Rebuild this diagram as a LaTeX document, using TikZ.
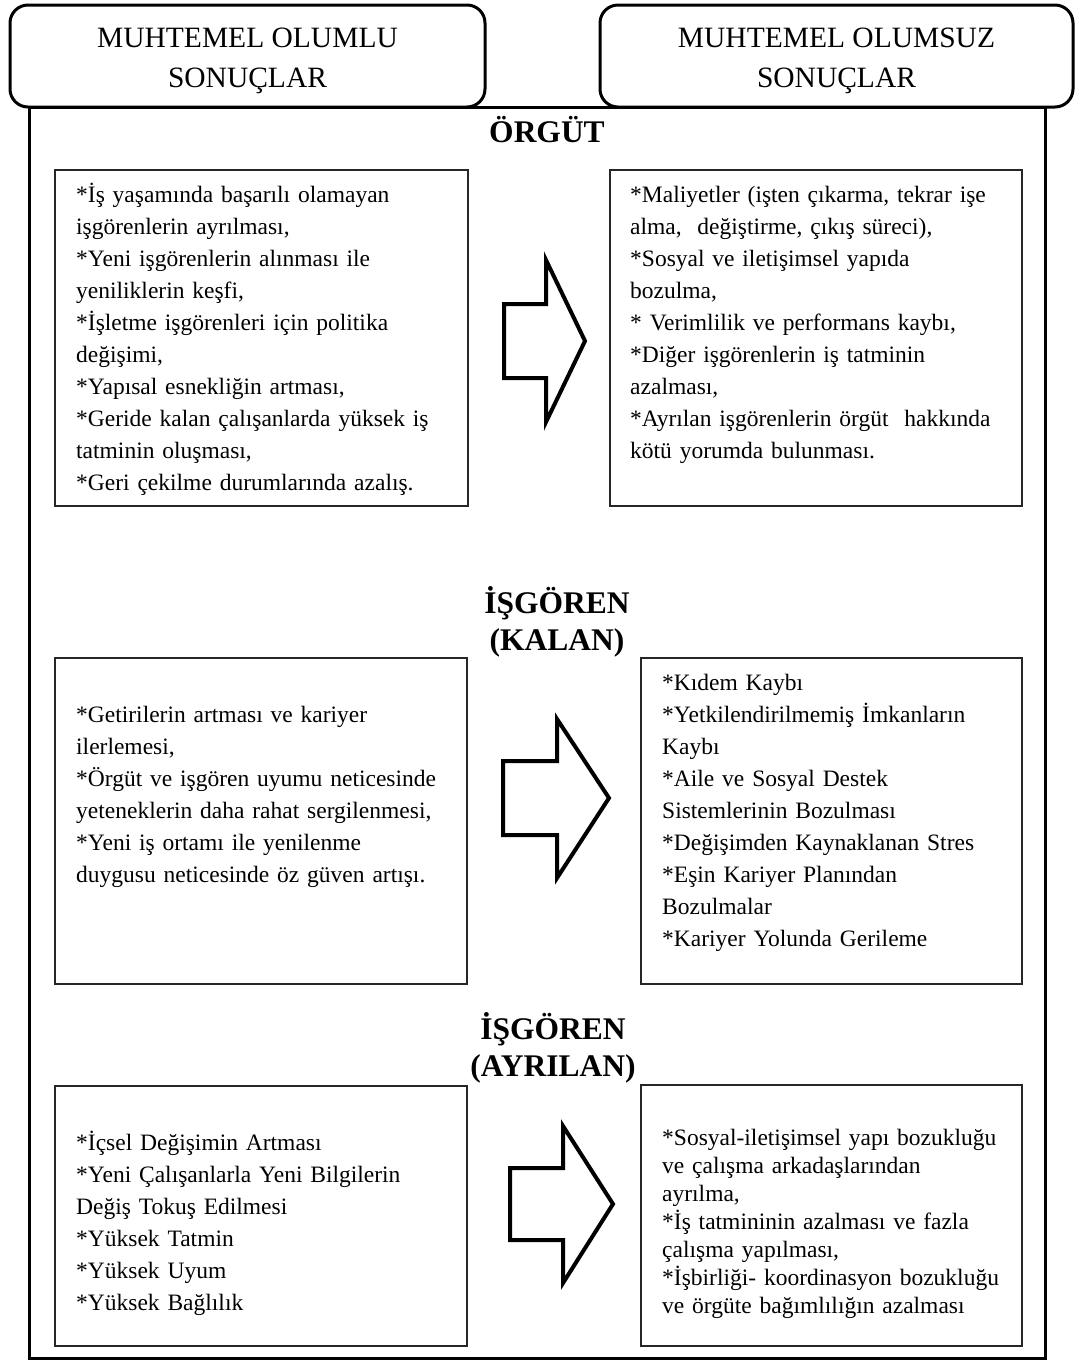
\documentclass[tikz,border=0pt]{standalone}
\usepackage{fontspec}
\setmainfont{Liberation Serif}
\tikzset{
  hdrbox/.style={draw, line width=3pt, rounded corners=18pt, fill=white},
  outerframe/.style={draw, line width=3pt},
  txtbox/.style={draw=black!85, line width=1.3pt},
  blockarrow/.style={draw, line width=4pt, miter limit=10, fill=white},
  body/.style={anchor=north west, inner sep=0pt, text width=520pt, align=left, font=\fontsize{23.5}{32}\selectfont},
  bodytight/.style={body, font=\fontsize{23.5}{28}\selectfont},
  hdrtxt/.style={anchor=north, inner sep=0pt, align=center, font=\fontsize{29.5}{40}\selectfont},
  heading/.style={anchor=north, inner sep=0pt, align=center, font=\bfseries\fontsize{31.5}{37}\selectfont},
}
\begin{document}
\begin{tikzpicture}[x=1pt,y=-1pt]
\useasboundingbox (0,0) rectangle (1075,1361);

% outer frame
\draw[outerframe] (29,107) rectangle (1045,1358);

% header boxes
\draw[hdrbox] (10,5) rectangle (485,107);
\draw[hdrbox] (600,5) rectangle (1073,107);
\node[hdrtxt] (hl) at (247.5,19) {\rule{0pt}{28pt}MUHTEMEL OLUMLU\\SONUÇLAR};
\node[hdrtxt] (hr) at (836.5,19) {\rule{0pt}{28pt}MUHTEMEL OLUMSUZ\\SONUÇLAR};

% headings
\node[heading] (h1) at (547,112) {\rule{0pt}{30pt}ÖRGÜT};
\node[heading] (h2) at (557,583) {\rule{0pt}{30pt}İŞGÖREN\\(KALAN)};
\node[heading] (h3) at (553,1009) {\rule{0pt}{30pt}İŞGÖREN\\(AYRILAN)};

% row 1
\draw[txtbox] (55,170) rectangle (468,506);
\draw[txtbox] (610,170) rectangle (1022,506);
\node[body] (t1l) at (76,180) {\rule{0pt}{22pt}*İş yaşamında başarılı olamayan\\
işgörenlerin ayrılması,\\
{}*Yeni işgörenlerin alınması ile\\
yeniliklerin keşfi,\\
{}*İşletme işgörenleri için politika\\
değişimi,\\
{}*Yapısal esnekliğin artması,\\
{}*Geride kalan çalışanlarda yüksek iş\\
tatminin oluşması,\\
{}*Geri çekilme durumlarında azalış.};
\node[body] (t1r) at (630,180) {\rule{0pt}{22pt}*Maliyetler (işten çıkarma, tekrar işe\\
alma,\ \ değiştirme, çıkış süreci),\\
{}*Sosyal ve iletişimsel yapıda\\
bozulma,\\
{}* Verimlilik ve performans kaybı,\\
{}*Diğer işgörenlerin iş tatminin\\
azalması,\\
{}*Ayrılan işgörenlerin örgüt\ \ hakkında\\
kötü yorumda bulunması.};
\draw[blockarrow] (504,304) -- (546,304) -- (546,260) -- (585,341) -- (546,422) -- (546,378) -- (504,378) -- cycle;

% row 2
\draw[txtbox] (55,658) rectangle (467,984);
\draw[txtbox] (641,658) rectangle (1022,984);
\node[body] (t2l) at (76,700) {\rule{0pt}{22pt}*Getirilerin artması ve kariyer\\
ilerlemesi,\\
{}*Örgüt ve işgören uyumu neticesinde\\
yeteneklerin daha rahat sergilenmesi,\\
{}*Yeni iş ortamı ile yenilenme\\
duygusu neticesinde öz güven artışı.};
\node[body] (t2r) at (662,668) {\rule{0pt}{22pt}*Kıdem Kaybı\\
{}*Yetkilendirilmemiş İmkanların\\
Kaybı\\
{}*Aile ve Sosyal Destek\\
Sistemlerinin Bozulması\\
{}*Değişimden Kaynaklanan Stres\\
{}*Eşin Kariyer Planından\\
Bozulmalar\\
{}*Kariyer Yolunda Gerileme};
\draw[blockarrow] (503,761) -- (557,761) -- (557,719) -- (609,798) -- (557,878) -- (557,835) -- (503,835) -- cycle;

% row 3
\draw[txtbox] (55,1086) rectangle (467,1346);
\draw[txtbox] (641,1085) rectangle (1022,1346);
\node[body] (t3l) at (76,1128) {\rule{0pt}{22pt}*İçsel Değişimin Artması\\
{}*Yeni Çalışanlarla Yeni Bilgilerin\\
Değiş Tokuş Edilmesi\\
{}*Yüksek Tatmin\\
{}*Yüksek Uyum\\
{}*Yüksek Bağlılık};
\node[bodytight] (t3r) at (662,1123) {\rule{0pt}{22pt}*Sosyal-iletişimsel yapı bozukluğu\\
ve çalışma arkadaşlarından\\
ayrılma,\\
{}*İş tatmininin azalması ve fazla\\
çalışma yapılması,\\
{}*İşbirliği- koordinasyon bozukluğu\\
ve örgüte bağımlılığın azalması};
\draw[blockarrow] (510,1168) -- (563,1168) -- (563,1126) -- (613,1204) -- (563,1283) -- (563,1240) -- (510,1240) -- cycle;
\end{tikzpicture}
\end{document}
